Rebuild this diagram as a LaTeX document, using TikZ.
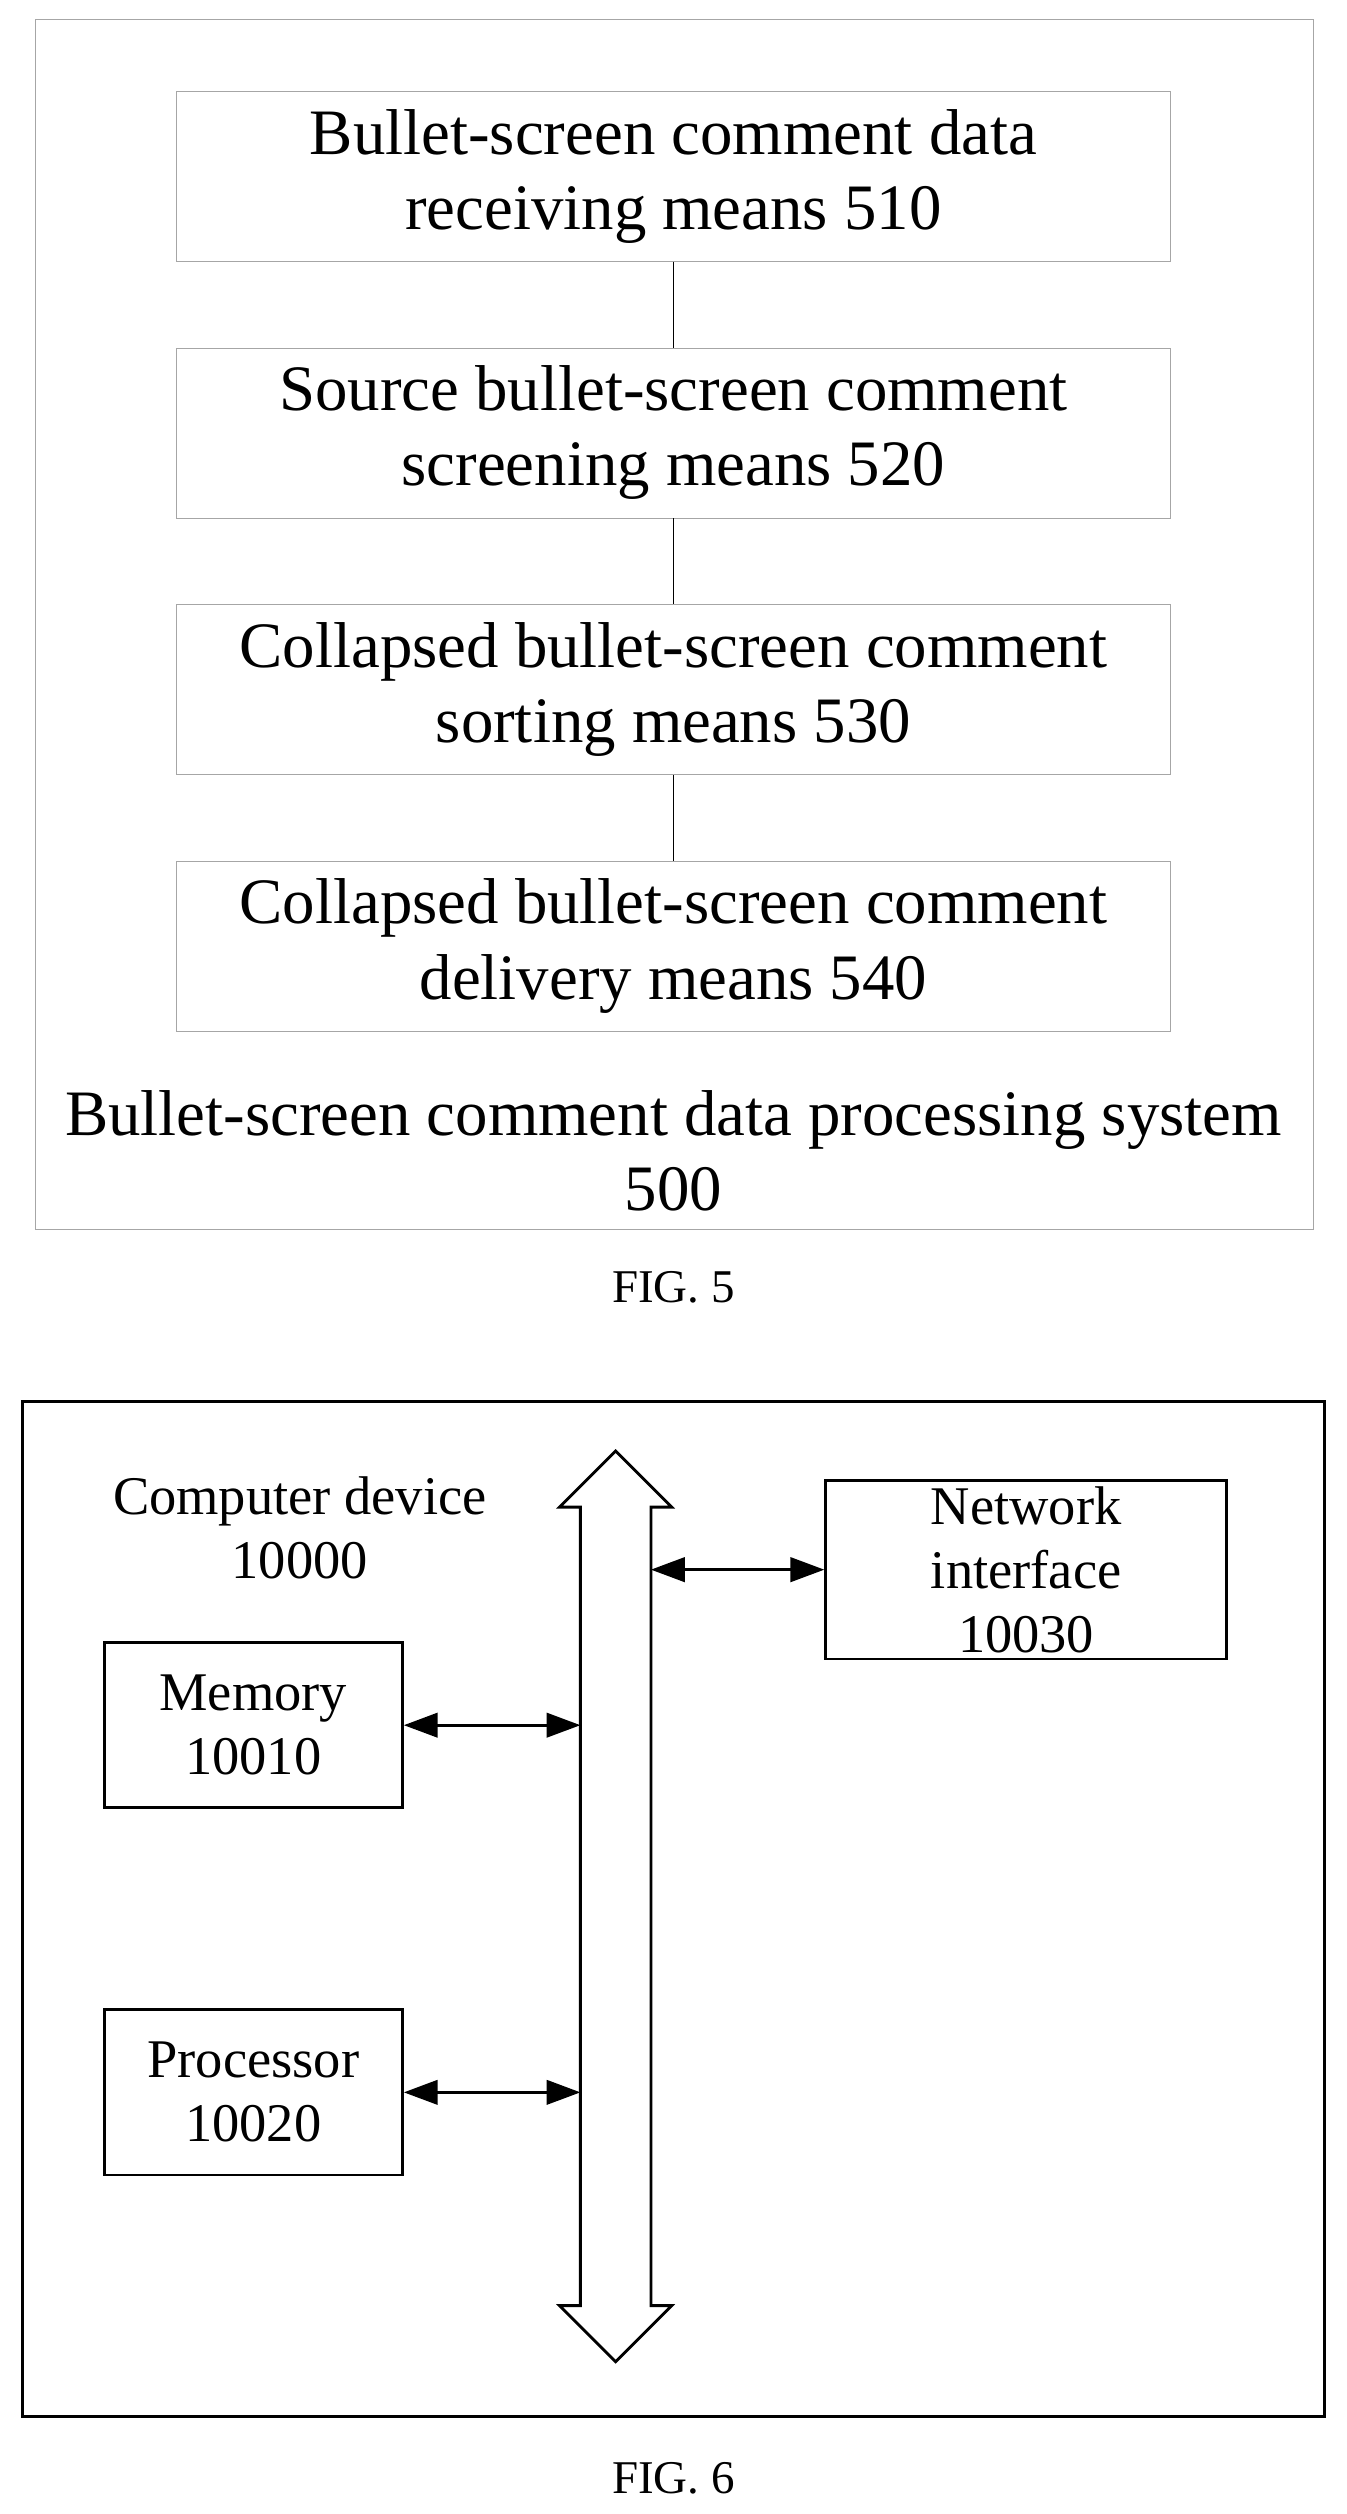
\documentclass[tikz,border=0pt]{standalone}
\usepackage{fontspec}
\setmainfont{Liberation Serif}
\usetikzlibrary{positioning,arrows.meta}
\tikzset{
  means/.style={draw=gray!70, thin, minimum width=18.6cm, minimum height=3.18cm, align=center,
    font=\fontsize{34.5}{40}\selectfont},
  unit/.style={draw=black, line width=1.5pt, minimum width=5.58cm, minimum height=3.09cm, align=center,
    font=\fontsize{29}{34}\selectfont},
  link/.style={{Triangle[length=18pt,width=13pt]}-{Triangle[length=18pt,width=13pt]}, line width=1.5pt},
  caption/.style={font=\fontsize{25}{28}\selectfont}
}
\begin{document}
\begin{tikzpicture}[x=0.03cm, y=-0.03cm]
		\useasboundingbox (0,0) rectangle (840,1568);
		% FIG. 5
		\draw[gray!70, thin] (22,12) rectangle (819,767);
		\node[means] (m510) at (420,110) {Bullet-screen comment data\\receiving means 510};
		\node[means] (m520) at (420,270) {Source bullet-screen comment\\screening means 520};
		\node[means] (m530) at (420,430) {Collapsed bullet-screen comment\\sorting means 530};
		\node[means] (m540) at (420,590) {Collapsed bullet-screen comment\\delivery means 540};
		\draw (m510) -- (m520);
		\draw (m520) -- (m530);
		\draw (m530) -- (m540);
		\node[align=center, font=\fontsize{34.5}{40}\selectfont] (sys) at (420,718) {Bullet-screen comment data processing system\\500};
		\node[caption] (fig5) at (420,803) {FIG. 5};
		% FIG. 6
		\draw[line width=1.5pt] (14,874) rectangle (826,1507);
		\draw[line width=1.5pt] (384,905) -- (419,940) -- (406,940) -- (406,1438) -- (419,1438) -- (384,1473)
			-- (349,1438) -- (362,1438) -- (362,940) -- (349,940) -- cycle;
		\coordinate (busL1) at (362,1076);
		\coordinate (busL2) at (362,1305);
		\coordinate (busR) at (406,979);
		\node[align=center, font=\fontsize{29}{34}\selectfont] (dev) at (187,953) {Computer device\\10000};
		\node[unit, minimum width=7.5cm] (net) at (640,979) {Network\\interface\\10030};
		\node[unit] (mem) at (158,1076) {Memory\\10010};
		\node[unit] (proc) at (158,1305) {Processor\\10020};
		\draw[link] (mem.east) -- (busL1);
		\draw[link] (proc.east) -- (busL2);
		\draw[link] (busR) -- (net.west);
		\node[caption] (fig6) at (420,1546) {FIG. 6};
\end{tikzpicture}
\end{document}
